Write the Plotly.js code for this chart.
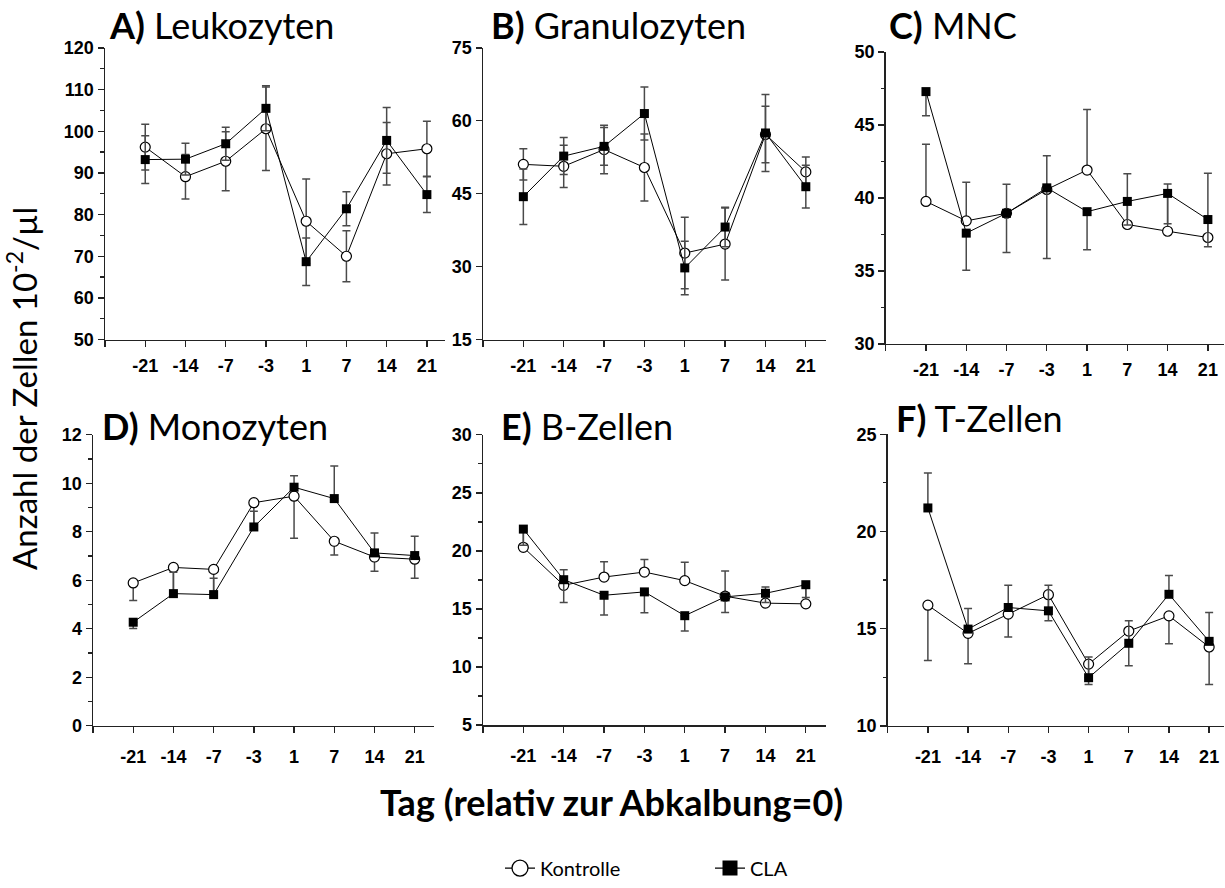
<!DOCTYPE html>
<html>
<head>
<meta charset="utf-8">
<script src="https://cdn.plot.ly/plotly-3.0.1.min.js"></script>
<style>html,body{margin:0;padding:0;background:#fff;}#chart{width:1225px;height:888px;}</style>
</head>
<body>
<div id="chart"></div>
<script>
// ---- data ----
const days = ['-21','-14','-7','-3','1','7','14','21'];

// A) Leukozyten (symmetric error bars)
const leukoK      = [96.2, 89.1, 92.8, 100.6, 78.4, 70.0, 94.6, 95.8];
const leukoKErr   = [5.5, 5.35, 7.1, 10.0, 10.15, 6.1, 7.5, 6.6];
const leukoCLA    = [93.2, 93.3, 97.0, 105.5, 68.7, 81.4, 97.8, 84.8];
const leukoCLAErr = [5.75, 3.8, 3.95, 5.4, 5.7, 4.1, 7.9, 4.3];

// B) Granulozyten (symmetric error bars)
const granK      = [51.05, 50.65, 54.1, 50.4, 32.8, 34.65, 57.2, 49.5];
const granKErr   = [3.2, 4.35, 5.0, 6.9, 7.35, 7.4, 5.8, 3.05];
const granCLA    = [44.4, 52.75, 54.75, 61.5, 29.75, 38.15, 57.5, 46.45];
const granCLAErr = [5.7, 3.8, 3.9, 5.45, 5.5, 4.05, 7.9, 4.4];

// C) MNC (Kontrolle: upper bars, CLA: lower bars)
const mncK          = [39.76, 38.43, 38.95, 40.58, 41.91, 38.18, 37.72, 37.29];
const mncKPlus      = [3.92, 2.65, 1.99, 2.31, 4.15, 3.48, 3.24, 4.4];
const mncCLA        = [47.28, 37.59, 38.95, 40.69, 39.06, 39.76, 40.31, 38.52];
const mncCLAMinus   = [1.65, 2.54, 2.68, 4.84, 2.6, 1.61, 2.07, 1.86];

// D) Monozyten (Kontrolle: lower bars, CLA: upper bars)
const monoK         = [5.89, 6.53, 6.45, 9.2, 9.47, 7.61, 6.96, 6.87];
const monoKMinus    = [0.72, 1.0, 0.95, 0.95, 1.74, 0.57, 0.59, 0.79];
const monoCLA       = [4.27, 5.45, 5.41, 8.2, 9.84, 9.37, 7.13, 7.02];
const monoCLAPlus   = [0, 0.88, 0.67, 0.65, 0.47, 1.34, 0.82, 0.8];
const monoCLAMinus  = [0.26, 0, 0, 0, 0, 0, 0, 0];

// E) B-Zellen (Kontrolle: upper bars, CLA: lower bars)
const bK            = [20.31, 17.04, 17.75, 18.18, 17.44, 16.1, 15.5, 15.44];
const bKPlus        = [1.4, 1.34, 1.31, 1.08, 1.59, 2.16, 1.4, 1.5];
const bCLA          = [21.88, 17.52, 16.18, 16.47, 14.42, 16.04, 16.35, 17.09];
const bCLAMinus     = [1.4, 1.96, 1.71, 1.8, 1.32, 1.34, 0.8, 1.1];

// F) T-Zellen (Kontrolle: lower bars, CLA: upper bars)
const tK            = [16.21, 14.76, 15.75, 16.75, 13.18, 14.88, 15.66, 14.06];
const tKMinus       = [2.84, 1.56, 1.18, 1.34, 1.05, 1.78, 1.44, 1.93];
const tCLA          = [21.21, 14.98, 16.09, 15.92, 12.48, 14.25, 16.77, 14.35];
const tCLAPlus      = [1.8, 1.06, 1.15, 1.32, 1.07, 1.16, 0.97, 1.48];

const panelTitles = ['<b>A)</b> Leukozyten', '<b>B)</b> Granulozyten', '<b>C)</b> MNC',
                     '<b>D)</b> Monozyten', '<b>E)</b> B-Zellen', '<b>F)</b> T-Zellen'];
const seriesNames = ['Kontrolle', 'CLA'];
const yTitle = 'Anzahl der Zellen 10<sup>-2</sup>/µl';
const xTitle = '<b>Tag (relativ zur Abkalbung=0)</b>';

// ---- build ----
const W = 1225, H = 888;
const xi = days.map((d, i) => i);
const zeros = days.map(() => 0);

function err(plus, minus) {
  return {type: 'data', symmetric: false, array: plus, arrayminus: minus,
          color: '#4a4a4a', thickness: 1.5, width: 4};
}

const panels = [
  {k: leukoK, c: leukoCLA, ke: err(leukoKErr, leukoKErr), ce: err(leukoCLAErr, leukoCLAErr)},
  {k: granK, c: granCLA, ke: err(granKErr, granKErr), ce: err(granCLAErr, granCLAErr)},
  {k: mncK, c: mncCLA, ke: err(mncKPlus, zeros), ce: err(zeros, mncCLAMinus)},
  {k: monoK, c: monoCLA, ke: err(zeros, monoKMinus), ce: err(monoCLAPlus, monoCLAMinus)},
  {k: bK, c: bCLA, ke: err(bKPlus, zeros), ce: err(zeros, bCLAMinus)},
  {k: tK, c: tCLA, ke: err(zeros, tKMinus), ce: err(tCLAPlus, zeros)}
];

// layout geometry (pixels)
const geo = [
  {x0: 105, x1: 445, xr: [-1, 7.45], yTop: 48.3, yBot: 342.3, yr: [50, 120], dt: 10, minor: 5, stand: 3, tx: 107, ty: 25},
  {x0: 483, x1: 826, xr: [-1, 7.5], yTop: 48.3, yBot: 342.3, yr: [15, 75], dt: 15, minor: null, stand: 3, tx: 489, ty: 25},
  {x0: 885.7, x1: 1224, xr: [-1, 7.4], yTop: 52.3, yBot: 346.7, yr: [30, 50], dt: 5, minor: 2.5, stand: 3, tx: 887, ty: 25},
  {x0: 93, x1: 434, xr: [-1, 7.48], yTop: 438.3, yBot: 731.5, yr: [0, 12], dt: 2, minor: 1, stand: 8, tx: 100, ty: 429},
  {x0: 483, x1: 826, xr: [-1, 7.5], yTop: 438.3, yBot: 730.8, yr: [5, 30], dt: 5, minor: 2.5, stand: 8, tx: 499, ty: 429},
  {x0: 887.7, x1: 1224, xr: [-1, 7.37], yTop: 437.7, yBot: 731.7, yr: [10, 25], dt: 5, minor: 2.5, stand: 8, tx: 894, ty: 421}
];

const tickFont = {family: 'Liberation Sans, Arial, sans-serif', size: 18, color: '#000', weight: 'bold'};

const traces = [];
const layout = {
  width: W, height: H,
  margin: {l: 0, r: 0, t: 0, b: 0},
  paper_bgcolor: '#fff', plot_bgcolor: 'rgba(0,0,0,0)',
  showlegend: true,
  legend: {orientation: 'h', x: 500 / W, xanchor: 'left', y: 1 - 875 / H, yanchor: 'middle',
           traceorder: 'normal',
           font: {family: 'Lato, Carlito, sans-serif', size: 20, color: '#000'},
           entrywidth: 165, entrywidthmode: 'pixels', itemwidth: 30, bgcolor: 'rgba(0,0,0,0)'},
  annotations: [],
  font: {family: 'Liberation Sans, Arial, sans-serif', color: '#000'}
};

const tickText = [''].concat(days);
const tickVals = [-1].concat(xi);

panels.forEach((p, i) => {
  const g = geo[i];
  const n = i === 0 ? '' : String(i + 1);
  const xa = 'x' + n, ya = 'y' + n;
  traces.push({
    x: xi, y: p.k, xaxis: xa, yaxis: ya, name: seriesNames[0],
    showlegend: false, type: 'scatter', mode: 'lines+markers',
    line: {color: '#000', width: 1},
    marker: {symbol: 'circle', size: 10, color: '#fff', line: {color: '#000', width: 1.2}},
    error_y: p.ke, cliponaxis: false
  });
  traces.push({
    x: xi, y: p.c, xaxis: xa, yaxis: ya, name: seriesNames[1],
    showlegend: false, type: 'scatter', mode: 'lines+markers',
    line: {color: '#000', width: 1},
    marker: {symbol: 'square', size: 9, color: '#000', line: {color: '#000', width: 0}},
    error_y: p.ce, cliponaxis: false
  });
  layout['xaxis' + n] = {
    domain: [g.x0 / W, g.x1 / W], range: g.xr, anchor: ya,
    tickmode: 'array', tickvals: tickVals, ticktext: tickText,
    ticks: 'outside', ticklen: 6, tickwidth: 1.3, tickcolor: '#222',
    showline: true, linecolor: '#222', linewidth: 1.5,
    showgrid: false, zeroline: false, ticklabelstandoff: g.stand,
    tickfont: tickFont, fixedrange: true
  };
  const yax = {
    domain: [1 - g.yBot / H, 1 - g.yTop / H], range: g.yr, anchor: xa,
    tickmode: 'linear', tick0: g.yr[0], dtick: g.dt,
    ticks: 'outside', ticklen: 6, tickwidth: 1.3, tickcolor: '#222',
    showline: true, linecolor: '#222', linewidth: 1.5,
    showgrid: false, zeroline: false,
    tickfont: tickFont, fixedrange: true
  };
  if (g.minor) {
    yax.minor = {ticks: 'outside', ticklen: 3.5, dtick: g.minor, tick0: g.yr[0], tickcolor: '#222', tickwidth: 1.2, showgrid: false};
  }
  layout['yaxis' + n] = yax;
  layout.annotations.push({
    xref: 'paper', yref: 'paper', x: g.tx / W, y: 1 - g.ty / H, xanchor: 'left', yanchor: 'middle',
    text: panelTitles[i], showarrow: false,
    font: {family: 'Lato, Carlito, sans-serif', size: 36, color: '#000'}
  });
});

// legend entries (no data of their own)
traces.push({
  x: [null], y: [null], xaxis: 'x', yaxis: 'y', name: seriesNames[0], showlegend: true,
  type: 'scatter', mode: 'lines+markers', line: {color: '#000', width: 1.2},
  marker: {symbol: 'circle', size: 16, color: '#fff', line: {color: '#000', width: 1.3}}
});
traces.push({
  x: [null], y: [null], xaxis: 'x', yaxis: 'y', name: seriesNames[1], showlegend: true,
  type: 'scatter', mode: 'lines+markers', line: {color: '#000', width: 1.2},
  marker: {symbol: 'square', size: 15, color: '#000', line: {color: '#000', width: 0}}
});

layout.annotations.push({
  xref: 'paper', yref: 'paper', x: 22 / W, y: 1 - 392 / H, xanchor: 'center', yanchor: 'middle',
  text: yTitle, textangle: -90, showarrow: false,
  font: {family: 'Lato, Carlito, sans-serif', size: 33, color: '#000'}
});
layout.annotations.push({
  xref: 'paper', yref: 'paper', x: 611 / W, y: 1 - 808 / H, xanchor: 'center', yanchor: 'middle',
  text: xTitle, showarrow: false,
  font: {family: 'Lato, Carlito, sans-serif', size: 36, color: '#000'}
});

Plotly.newPlot('chart', traces, layout, {displayModeBar: false, staticPlot: true});
</script>
</body>
</html>
